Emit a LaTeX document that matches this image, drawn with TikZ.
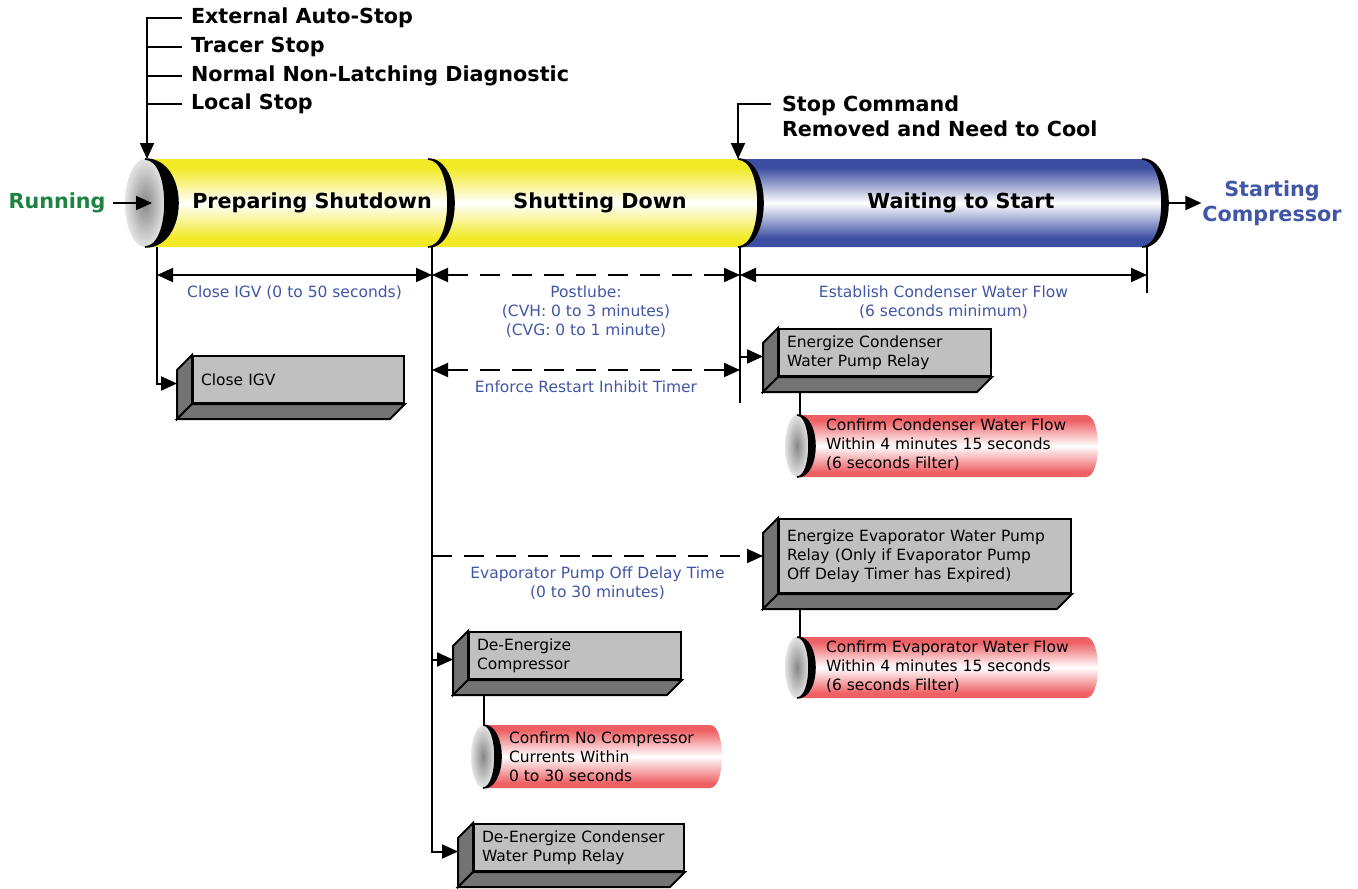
\documentclass[tikz,border=0pt]{standalone}
\usepackage{fontspec}
\setmainfont{DejaVu Sans}
\usetikzlibrary{positioning, arrows.meta}

\definecolor{tubeyellow}{RGB}{242,234,38}
\definecolor{tubeblue}{RGB}{60,78,162}
\definecolor{tubered}{RGB}{238,96,100}
\definecolor{boxgray}{RGB}{192,192,192}
\definecolor{boxside}{RGB}{115,115,115}
\definecolor{labelblue}{RGB}{64,86,166}
\definecolor{rungreen}{RGB}{30,130,65}
\definecolor{capdark}{RGB}{135,135,135}
\definecolor{caplight}{RGB}{228,228,228}

\pgfdeclareverticalshading{yellowtube}{100bp}{color(0bp)=(tubeyellow); color(30bp)=(tubeyellow); color(50bp)=(white); color(70bp)=(tubeyellow); color(100bp)=(tubeyellow)}
\pgfdeclareverticalshading{bluetube}{100bp}{color(0bp)=(tubeblue); color(30bp)=(tubeblue); color(50bp)=(white); color(70bp)=(tubeblue); color(100bp)=(tubeblue)}
\pgfdeclareverticalshading{redtube}{100bp}{color(0bp)=(tubered); color(29bp)=(tubered); color(50bp)=(white); color(71bp)=(tubered); color(100bp)=(tubered)}

\newcommand{\bigfont}{\fontsize{10.35}{12.5}\selectfont\bfseries}
\newcommand{\smallfont}{\fontsize{7.75}{9.5}\selectfont}

% black rim of a tube end: x, top, bottom, x radius, thickness
\newcommand{\rim}[5]{%
  \filldraw[line width=0.8pt] (#1,#2) .. controls ({#1+1.333*(#4+#5)},#2) and ({#1+1.333*(#4+#5)},#3) .. (#1,#3)
    .. controls ({#1+1.333*#4},#3) and ({#1+1.333*#4},#2) .. (#1,#2);}
% grey end face: x, y, x radius, y radius
\newcommand{\capface}[4]{%
  \shade[inner color=capdark, outer color=caplight] (#1,#2) ellipse [x radius=#3, y radius=#4];}
% red tube body: x left, top, x right, bottom
\newcommand{\redbody}[4]{%
  \shade[shading=redtube] (#1,#2) -- ({#3-12},#2) .. controls ({#3+4},#2) and ({#3+4},#4) .. ({#3-12},#4) -- (#1,#4) -- cycle;}
% side and bottom faces of a relay box
\newcommand{\boxsides}[1]{%
  \filldraw[fill=boxside] (#1.north west) -- ++(-15,15) -- ([shift={(-15,15)}]#1.south west) -- (#1.south west) -- cycle;
  \filldraw[fill=boxside] (#1.south west) -- ([shift={(-15,15)}]#1.south west) -- ([shift={(-15,15)}]#1.south east) -- (#1.south east) -- cycle;}

\begin{document}
\begin{tikzpicture}[x=0.5pt, y=-0.5pt, line width=1pt,
    flow/.style={-{Triangle[length=8pt, width=7pt]}},
    dim/.style={{Triangle[length=8pt, width=7pt]}-{Triangle[length=8pt, width=7pt]}},
    dashline/.style={dash pattern=on 10pt off 6pt},
    heading/.style={font=\bigfont, inner sep=0pt},
    note/.style={font=\smallfont, text=labelblue, align=center, inner sep=0pt},
    relay/.style={draw, fill=boxgray, anchor=north west, align=left, font=\smallfont, inner xsep=4pt, inner ysep=2pt},
    check/.style={font=\smallfont, align=left, anchor=west, inner sep=0pt}]
\useasboundingbox (0,0) rectangle (1358,888);

% main tube
\shade[shading=bluetube]
  (738,159) -- (1142,159) .. controls (1168.7,159) and (1168.7,247) .. (1142,247) -- (738,247) -- cycle;
\shade[shading=yellowtube]
  (145,159) -- (738,159) .. controls (764.7,159) and (764.7,247) .. (738,247) -- (145,247) -- cycle;
\capface{145}{203}{10pt}{22pt}
\rim{145}{159}{247}{20}{13}
\rim{428}{159}{247}{20}{6}
\rim{738}{159}{247}{20}{5}
\rim{1142}{159}{247}{20}{6}

\coordinate (capTop) at (147,159);
\coordinate (capMid) at (152,203);
\coordinate (endMid) at (1168,203);
\coordinate (divTop) at (738,159);
\coordinate (t0) at (157,247);
\coordinate (t1) at (432,247);
\coordinate (t2) at (740,247);
\coordinate (t3) at (1147,247);

\node[heading] (prepSd) at (312,203) {Preparing Shutdown};
\node[heading] (shutDn) at (600,203) {Shutting Down};
\node[heading] (waitSt) at (961,203) {Waiting to Start};
\node[heading, text=rungreen] (running) at (57,203) {Running};
\node[heading, text=labelblue, align=center] (startComp) at (1272,203) {Starting\\Compressor};
\draw[flow] ([xshift=3.5pt]running.east) -- (capMid);
\draw[flow] (endMid) -- (startComp.west);

% stop requests
\node[heading, anchor=west] (extStop) at (190,18) {External Auto-Stop};
\node[heading, anchor=west] (tracer) at (190,47) {Tracer Stop};
\node[heading, anchor=west] (nonLatch) at (190,76) {Normal Non-Latching Diagnostic};
\node[heading, anchor=west] (localStop) at (190,104) {Local Stop};
\draw[flow] ([xshift=-4pt]extStop.west) -| (capTop);
\foreach \s in {tracer, nonLatch, localStop}
  \draw ([xshift=-4pt]\s.west) -- (\s.west -| capTop);

\node[heading, anchor=west, align=left] (stopCmd) at (781,116.5) {Stop Command\\Removed and Need to Cool};
\draw[flow] ([shift={(-10,-12.5)}]stopCmd.west) -| (divTop);

% timers
\draw[dim] ([yshift=-14pt]t0) -- ([yshift=-14pt]t1)
  node[note, midway, below=5pt] {Close IGV (0 to 50 seconds)};
\draw[dim, dashline] ([yshift=-14pt]t1) -- ([yshift=-14pt]t2)
  node[note, midway, below=5pt] {Postlube:\\(CVH: 0 to 3 minutes)\\(CVG: 0 to 1 minute)};
\draw[dim] ([yshift=-14pt]t2) -- ([yshift=-14pt]t3)
  node[note, midway, below=5pt] {Establish Condenser Water Flow\\(6 seconds minimum)};
\draw[dim, dashline] ([yshift=-61.5pt]t1) -- ([yshift=-61.5pt]t2)
  node[note, midway, below=5pt] {Enforce Restart Inhibit Timer};

% relays
\node[relay, text width=97.5pt, minimum height=23.5pt] (closeIGV) at (192,355) {Close IGV};
\node[relay, text width=98pt, minimum height=23.5pt] (enCond) at (778,328) {Energize Condenser\\Water Pump Relay};
\node[relay, text width=138pt, minimum height=37pt] (enEvap) at (778,518) {Energize Evaporator Water Pump\\Relay (Only if Evaporator Pump\\Off Delay Timer has Expired)};
\node[relay, text width=98pt, minimum height=23.5pt] (deComp) at (468,631) {De-Energize\\Compressor};
\node[relay, text width=97pt, minimum height=23.5pt] (deCond) at (473,823) {De-Energize Condenser\\Water Pump Relay};
\foreach \b in {closeIGV, enCond, enEvap, deComp, deCond} {\boxsides{\b}}

% confirmations
\redbody{797}{415}{1098}{477}
\capface{797}{446}{6pt}{15.5pt}
\rim{797}{415}{477}{12}{6}
\redbody{797}{637}{1098}{698}
\capface{797}{667.5}{6pt}{15.5pt}
\rim{797}{637}{698}{12}{6}
\redbody{483}{725}{722}{788}
\capface{483}{756.5}{6pt}{15.5pt}
\rim{483}{725}{788}{12}{6}
\coordinate (cfCondTop) at (800,415);
\coordinate (cfEvapTop) at (800,637);
\coordinate (cfCompTop) at (484,725);
\node[check] (cfCond) at (825,445) {Confirm Condenser Water Flow\\Within 4 minutes 15 seconds\\(6 seconds Filter)};
\node[check] (cfEvap) at (825,667) {Confirm Evaporator Water Flow\\Within 4 minutes 15 seconds\\(6 seconds Filter)};
\node[check] (cfComp) at (508,757) {Confirm No Compressor\\Currents Within\\0 to 30 seconds};

% connectors
\draw[flow] (t0) |- ([shift={(-15,4)}]closeIGV.west);
\draw[flow] (t1) |- ([shift={(-15,4)}]deCond.west);
\draw[flow] (t1) |- ([shift={(-15,4)}]deComp.west);
\draw[flow, dashline] (t1 |- enEvap.west) -- ([xshift=-7.5pt]enEvap.west)
  node[note, midway, below=5pt] {Evaporator Pump Off Delay Time\\(0 to 30 minutes)};
\draw (t2) -- ++(0,156);
\draw[flow] (t2) |- ([shift={(-15,4)}]enCond.west);
\draw (t3) -- ++(0,46);
\draw ([xshift=11pt, yshift=-7.5pt]enCond.south west) -- (cfCondTop);
\draw ([xshift=11pt, yshift=-7.5pt]enEvap.south west) -- (cfEvapTop);
\draw ([xshift=8pt, yshift=-7.5pt]deComp.south west) -- (cfCompTop);
\end{tikzpicture}
\end{document}
